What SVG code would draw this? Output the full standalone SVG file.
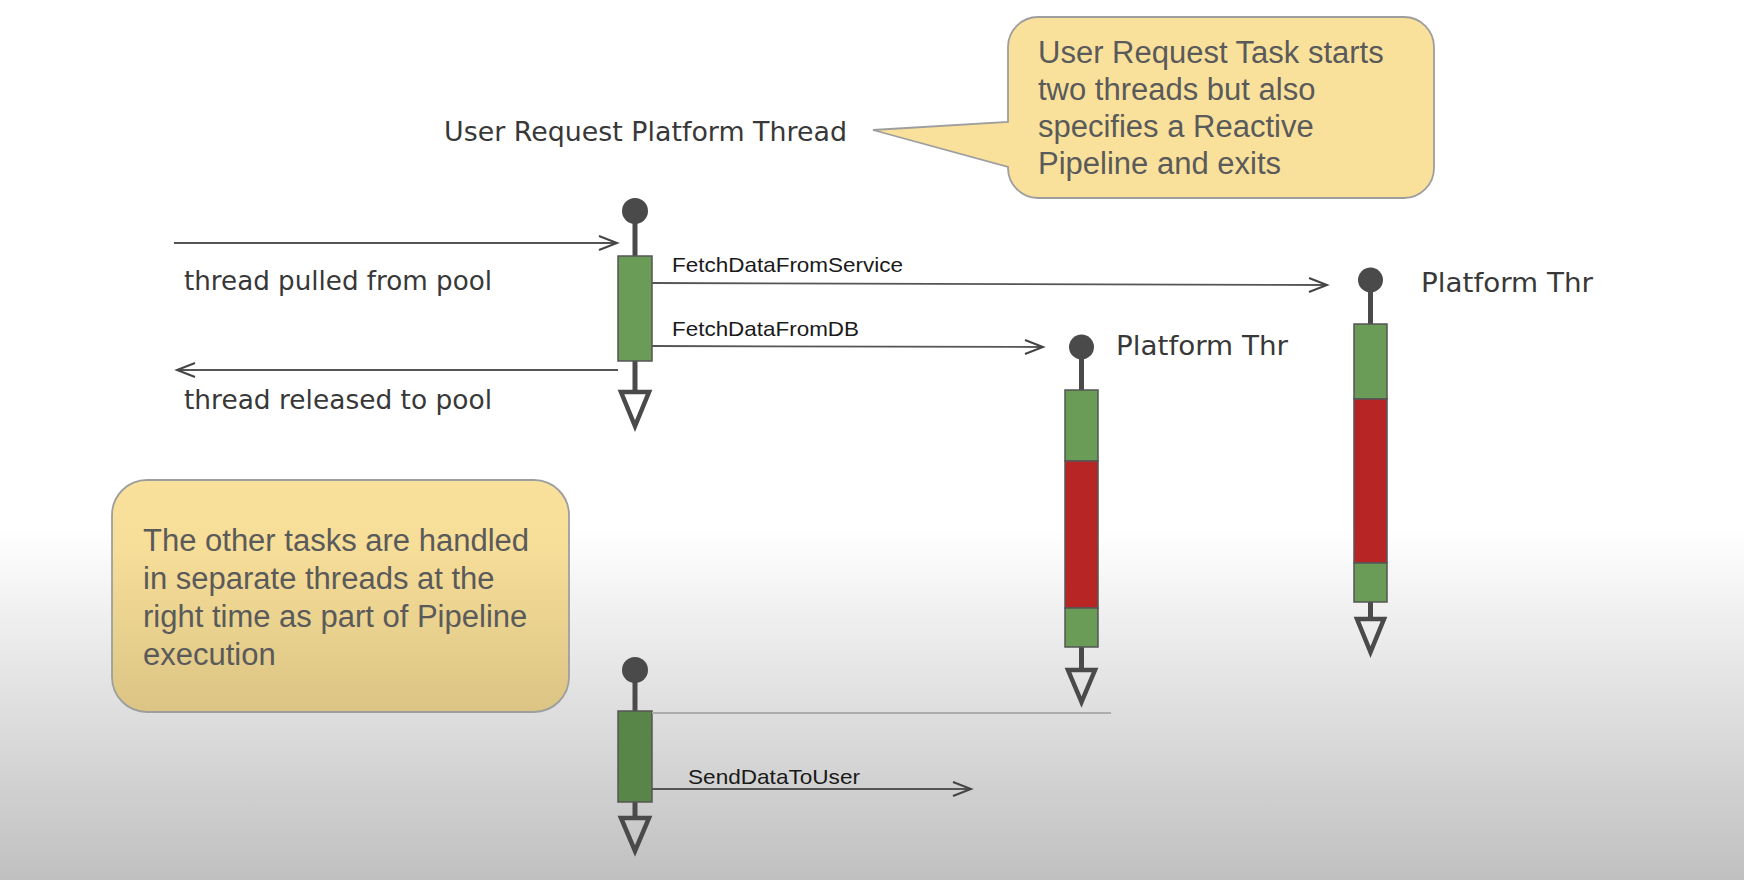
<svg xmlns="http://www.w3.org/2000/svg" width="1744" height="880" viewBox="0 0 1744 880">
<defs>
<linearGradient id="bg" gradientUnits="userSpaceOnUse" x1="0" y1="0" x2="0" y2="880">
<stop offset="0" stop-color="#ffffff"/>
<stop offset="0.6" stop-color="#ffffff"/>
<stop offset="1" stop-color="#c0c0c0"/>
</linearGradient>
<linearGradient id="note2" gradientUnits="userSpaceOnUse" x1="0" y1="480" x2="0" y2="712">
<stop offset="0" stop-color="#f9e19c"/>
<stop offset="0.3" stop-color="#f6dd98"/>
<stop offset="1" stop-color="#dbc484"/>
</linearGradient>
<marker id="arr" markerUnits="userSpaceOnUse" markerWidth="22" markerHeight="18" refX="19" refY="8" orient="auto">
<path d="M1,1 L19,8 L1,15" fill="none" stroke="#444" stroke-width="2"/>
</marker>
<style>
.hand{font-family:"DejaVu Sans",sans-serif;font-size:27px;fill:#383838}
.note{font-family:"Liberation Sans",Arial,sans-serif;font-size:31px;fill:#5a5a5a}
.lbl{font-family:"Liberation Sans",Arial,sans-serif;font-size:21px;fill:#1a1a1a}
.msg{fill:none;stroke:#555;stroke-width:1.8}
.stem{stroke:#4a4a4a;stroke-width:5}
.dot{fill:#4a4a4a}
.end{fill:none;stroke:#4a4a4a;stroke-width:4.5;stroke-linejoin:miter}
.g{fill:#6a9b57;stroke:#555;stroke-width:1.5}
.r{fill:#b82525;stroke:#555;stroke-width:1.5}
.bubble{stroke:#9e9e9e;stroke-width:1.8}
</style>
</defs>
<rect x="0" y="0" width="1744" height="880" fill="url(#bg)"/>

<g id="callout-top">
<path class="bubble" fill="#f9e19c" d="M1038,17 H1404 A30,30 0 0 1 1434,47 V168 A30,30 0 0 1 1404,198 H1038 A30,30 0 0 1 1008,168 V167 L873,130 L1008,122 V47 A30,30 0 0 1 1038,17 Z"/>
<text class="note" x="1038" y="63">User Request Task starts</text>
<text class="note" x="1038" y="100">two threads but also</text>
<text class="note" x="1038" y="137">specifies a Reactive</text>
<text class="note" x="1038" y="174">Pipeline and exits</text>
</g>

<g id="note-bottom">
<rect class="bubble" x="112" y="480" width="457" height="232" rx="35" ry="35" fill="url(#note2)"/>
<text class="note" x="143" y="551">The other tasks are handled</text>
<text class="note" x="143" y="589">in separate threads at the</text>
<text class="note" x="143" y="627">right time as part of Pipeline</text>
<text class="note" x="143" y="665">execution</text>
</g>

<g id="user-request-thread">
<text class="hand" x="444" y="141" textLength="403" lengthAdjust="spacingAndGlyphs">User Request Platform Thread</text>
<line class="stem" x1="635" y1="215" x2="635" y2="257"/>
<circle class="dot" cx="635" cy="211" r="13"/>
<line class="stem" x1="635" y1="361" x2="635" y2="392"/>
<rect class="g" x="618" y="256" width="34" height="105"/>
<polygon class="end" points="621,392 649,392 635,426"/>
</g>

<g id="platform-thread-db">
<text class="hand" x="1116" y="355" textLength="172" lengthAdjust="spacingAndGlyphs">Platform Thr</text>
<line class="stem" x1="1081.5" y1="350" x2="1081.5" y2="391"/>
<circle class="dot" cx="1081.5" cy="347" r="12.5"/>
<line class="stem" x1="1081.5" y1="647" x2="1081.5" y2="670"/>
<rect class="g" x="1065" y="390" width="33" height="71"/>
<rect class="r" x="1065" y="461" width="33" height="147"/>
<rect class="g" x="1065" y="608" width="33" height="39" fill="#65954f"/>
<polygon class="end" points="1068,670 1095,670 1081.5,702"/>
</g>

<g id="platform-thread-service">
<text class="hand" x="1421" y="292" textLength="172" lengthAdjust="spacingAndGlyphs">Platform Thr</text>
<line class="stem" x1="1370.5" y1="283" x2="1370.5" y2="325"/>
<circle class="dot" cx="1370.5" cy="280" r="12.5"/>
<line class="stem" x1="1370.5" y1="602" x2="1370.5" y2="619"/>
<rect class="g" x="1354" y="324" width="33" height="75"/>
<rect class="r" x="1354" y="399" width="33" height="164"/>
<rect class="g" x="1354" y="563" width="33" height="39"/>
<polygon class="end" points="1357,619 1384,619 1370.5,652"/>
</g>

<g id="send-thread">
<line class="stem" x1="635" y1="674" x2="635" y2="712"/>
<circle class="dot" cx="635" cy="670" r="13"/>
<line class="stem" x1="635" y1="802" x2="635" y2="818"/>
<rect class="g" x="618" y="711" width="34" height="91" style="fill:#588649"/>
<polygon class="end" points="621,818 649,818 635,851"/>
</g>

<g id="connectors">
<path class="msg" d="M174,243 H617" marker-end="url(#arr)"/>
<path class="msg" d="M618,370 H177" marker-end="url(#arr)"/>
<path class="msg" d="M652,283 L1327,285" marker-end="url(#arr)"/>
<path class="msg" d="M652,346 L1043,347" marker-end="url(#arr)"/>
<path class="msg" d="M652,789 H971" marker-end="url(#arr)"/>
<line x1="652" y1="713" x2="1111" y2="713" stroke="#acacac" stroke-width="2"/>
<text class="hand" x="184" y="290" textLength="308" lengthAdjust="spacingAndGlyphs">thread pulled from pool</text>
<text class="hand" x="184" y="409" textLength="308" lengthAdjust="spacingAndGlyphs">thread released to pool</text>
<text class="lbl" x="672" y="272" textLength="231" lengthAdjust="spacingAndGlyphs">FetchDataFromService</text>
<text class="lbl" x="672" y="336" textLength="187" lengthAdjust="spacingAndGlyphs">FetchDataFromDB</text>
<text class="lbl" x="688" y="784" textLength="172" lengthAdjust="spacingAndGlyphs">SendDataToUser</text>
</g>
</svg>
